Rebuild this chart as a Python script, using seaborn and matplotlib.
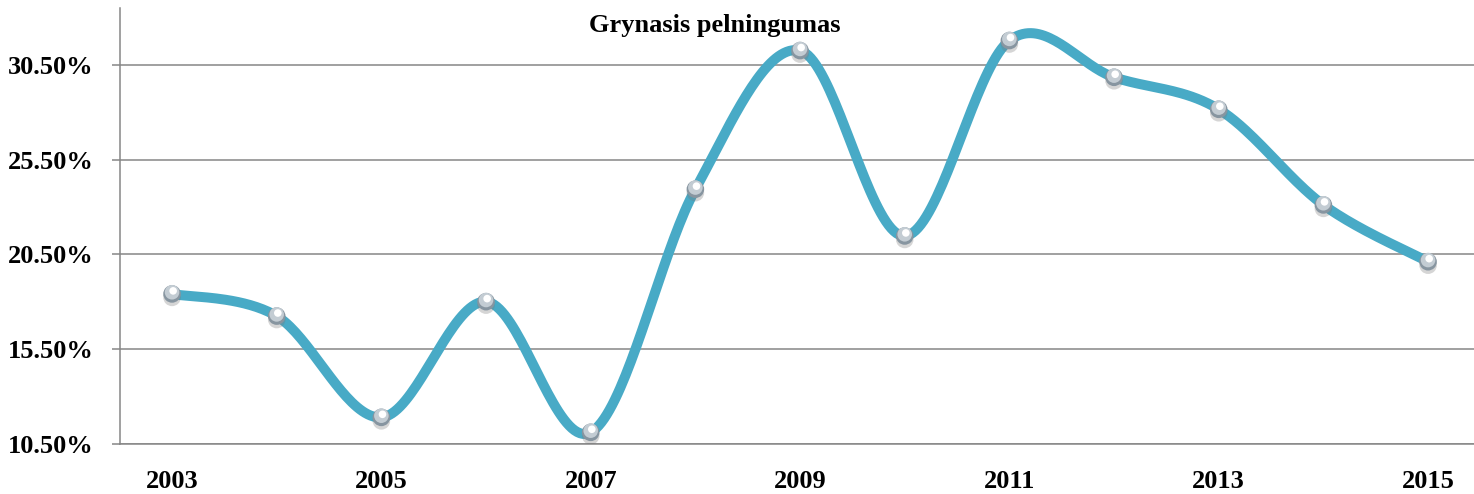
import numpy as np
import pandas as pd
import matplotlib
matplotlib.use("Agg")
import matplotlib.pyplot as plt
import matplotlib.patheffects as pe
import matplotlib.transforms as mtransforms
import seaborn as sns

# data (net profitability, %)
years = ["2003", "2004", "2005", "2006", "2007", "2008", "2009",
         "2010", "2011", "2012", "2013", "2014", "2015"]
values = [18.41, 17.24, 11.89, 18.00, 11.10, 23.94, 31.26,
          21.47, 31.79, 29.85, 28.16, 23.11, 20.11]
y_ticks = [10.5, 15.5, 20.5, 25.5, 30.5]
title = "Grynasis pelningumas"

sns.set_style("white")
plt.rcParams["font.family"] = ["Liberation Serif", "DejaVu Serif"]
plt.rcParams["font.weight"] = "bold"
plt.rcParams["text.color"] = "black"
plt.rcParams["xtick.labelcolor"] = "black"
plt.rcParams["ytick.labelcolor"] = "black"

df = pd.DataFrame({"pos": np.arange(len(years)), "year": years, "value": values})

line_col = "#48aac6"
grid_col = "#868686"


# Excel style smoothed line (Catmull-Rom through the points)
def smooth(x, y, n=40):
    x = np.asarray(x, float)
    y = np.asarray(y, float)
    px = np.r_[x[0], x, x[-1]]
    py = np.r_[y[0], y, y[-1]]
    t = np.linspace(0, 1, n)[:, None]
    out = []
    for i in range(1, len(px) - 2):
        p0 = np.array([px[i - 1], py[i - 1]])
        p1 = np.array([px[i], py[i]])
        p2 = np.array([px[i + 1], py[i + 1]])
        p3 = np.array([px[i + 2], py[i + 2]])
        c1 = p1 + (p2 - p0) / 6
        c2 = p2 - (p3 - p1) / 6
        seg = ((1 - t) ** 3) * p1 + 3 * ((1 - t) ** 2) * t * c1 \
            + 3 * (1 - t) * t ** 2 * c2 + t ** 3 * p2
        out.append(seg if i == 1 else seg[1:])
    out = np.vstack(out)
    return out[:, 0], out[:, 1]


W, H = 1474, 494
fig = plt.figure(figsize=(W / 100, H / 100), dpi=100)
ax = fig.add_axes([119.7 / W, (H - 443.7) / H, 1360.7 / W, 435.7 / H])

sx, sy = smooth(df["pos"], df["value"])
ax.plot(sx, sy, color=line_col, lw=7.2, solid_capstyle="round", zorder=2)

# silver "sphere" markers: dark base, lighter body shifted up, small shine
sns.scatterplot(data=df, x="pos", y="value", s=160, color="#8795a0",
                edgecolor="none", zorder=3, ax=ax)
ax.collections[-1].set_path_effects([
    pe.SimplePatchShadow(offset=(0, -2.5), shadow_rgbFace="#777777", alpha=0.3),
    pe.Normal()])
sns.scatterplot(data=df, x="pos", y="value", s=110, color="#c3ccd3",
                edgecolor="none", zorder=4, ax=ax)
ax.collections[-1].set_offset_transform(
    mtransforms.offset_copy(ax.transData, fig=fig, x=0, y=1.2, units="points"))
sns.scatterplot(data=df, x="pos", y="value", s=30, color="#ffffff",
                edgecolor="none", zorder=5, ax=ax)
ax.collections[-1].set_offset_transform(
    mtransforms.offset_copy(ax.transData, fig=fig, x=0.8, y=2.2, units="points"))

ax.set_xlim(-0.5, len(years) - 0.5)
ax.set_ylim(10.5, 33.51)
ax.set_xlabel("")
ax.set_ylabel("")

ax.set_xticks(df["pos"])
ax.set_xticklabels([y if i % 2 == 0 else "" for i, y in enumerate(years)])
ax.set_xticks(np.arange(-0.5, len(years), 1), minor=True)
ax.tick_params(axis="x", which="major", length=0, pad=19, labelsize=19)
ax.tick_params(axis="x", which="minor", length=5.8, width=1.1, color=grid_col)

ax.set_yticks(y_ticks)
ax.set_yticklabels([f"{v:.2f}%" for v in y_ticks])
ax.tick_params(axis="y", length=5.8, width=1.1, color=grid_col, pad=13,
               labelsize=19, left=True)

ax.yaxis.grid(True, color=grid_col, lw=1.1)
ax.set_axisbelow(True)
for side in ["top", "right"]:
    ax.spines[side].set_visible(False)
for side in ["left", "bottom"]:
    ax.spines[side].set_color(grid_col)
    ax.spines[side].set_linewidth(1.1)

fig.text(715 / W, 1 - 31.7 / H, title, ha="center", va="baseline",
         fontsize=19, fontweight="bold", color="black")

fig.savefig("out.png", dpi=100)
